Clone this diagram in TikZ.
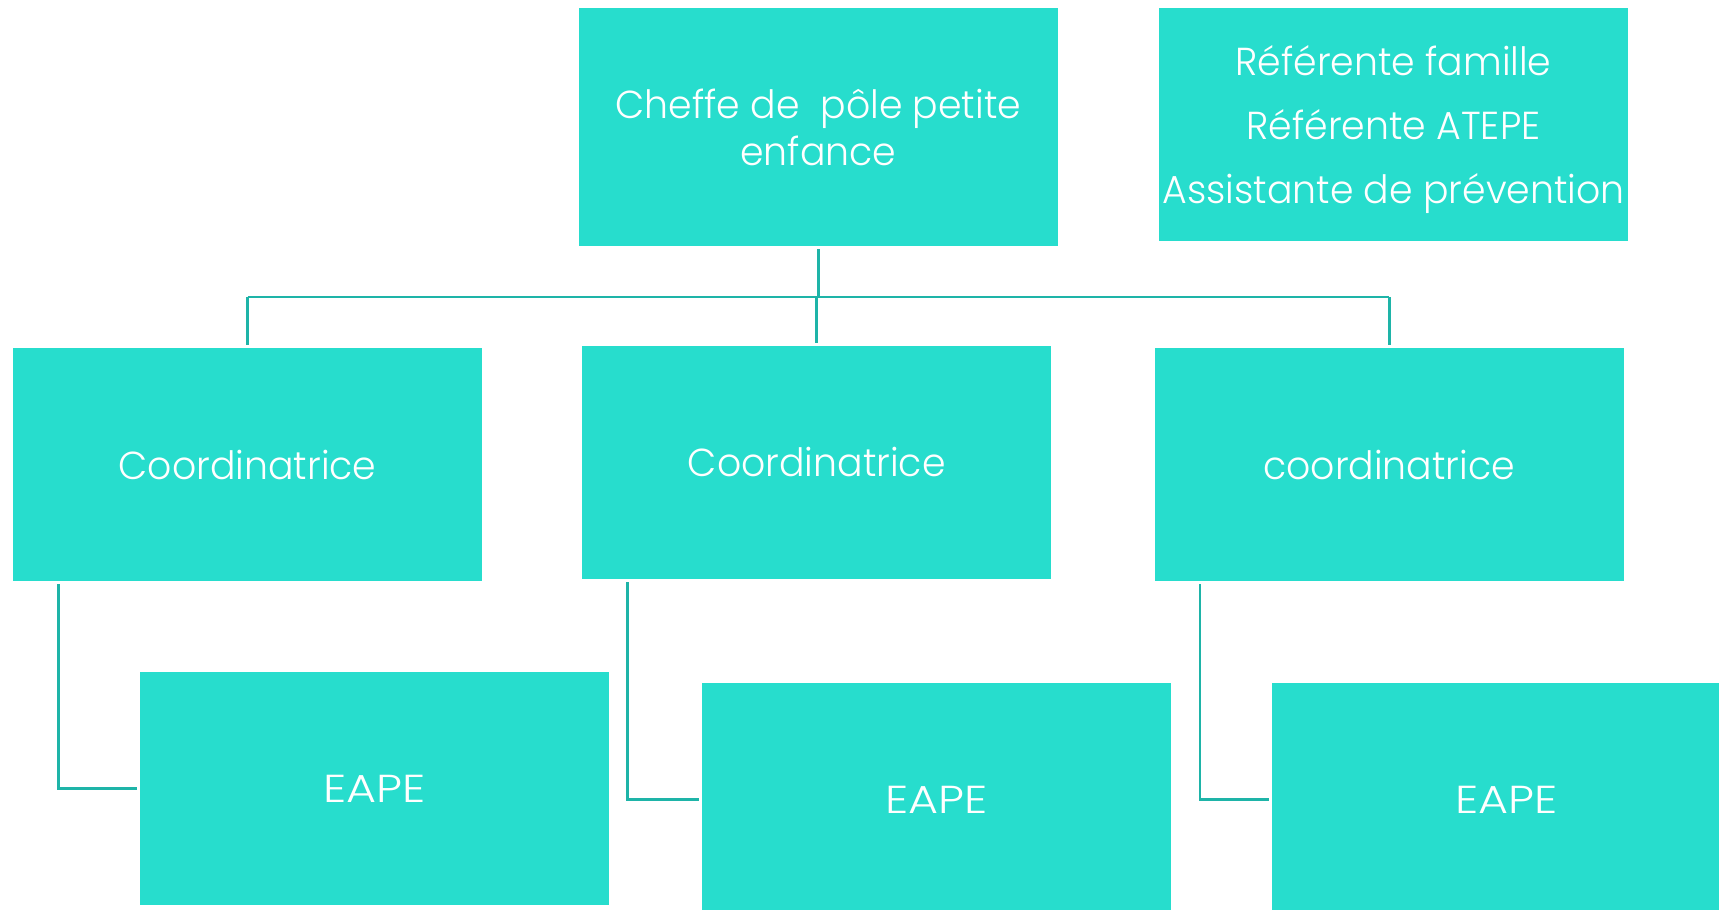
\documentclass[tikz,border=0pt]{standalone}
\usepackage{fontspec}
\setmainfont{Poppins}[UprightFont=* Light, FakeStretch=0.97]
\newfontfamily\eapefont{Poppins}[UprightFont=* Light, FakeStretch=1.18]
\definecolor{boxfill}{RGB}{39,221,205}
\definecolor{linecol}{RGB}{30,180,168}
\begin{document}
\begin{tikzpicture}[x=1pt,y=-1pt,
  box/.style={fill=boxfill, draw=none, text=white, align=center, inner sep=0pt,
    anchor=north west, minimum width=469pt, minimum height=233pt,
    font=\fontsize{39}{47}\selectfont},
  eape/.style={box, font=\eapefont\fontsize{39}{47}\selectfont},
  conn/.style={draw=linecol, line width=2.8pt}]
\path[use as bounding box, clip] (0,0) rectangle (1719,910);
\fill[white] (0,0) rectangle (1719,910);
% boxes
\node[box, minimum width=479pt, minimum height=238pt] (top) at (578.7,7.7) {Cheffe de\ \ pôle petite\\enfance};
\node[box, font=\fontsize{39}{64}\selectfont] (ref) at (1158.8,7.7) {\rule{0pt}{40pt}Référente famille\\Référente ATEPE\\Assistante de prévention};
\node[box] (c1) at (12.9,348) {Coordinatrice};
\node[box] (c2) at (582.1,345.7) {Coordinatrice};
\node[box] (c3) at (1154.4,348) {coordinatrice};
\node[eape] (e1) at (140.2,672) {EAPE};
\node[eape] (e2) at (701.8,682.7) {EAPE};
\node[eape] (e3) at (1271.9,682.7) {EAPE};
% connectors
\coordinate (bus) at (0,297);
\draw[conn, shorten <=3pt] (top.south) -- (top.south |- bus);
\draw[conn] (c1.north |- bus) -- (c3.north |- bus);
\foreach \n in {c1,c2,c3}
  \draw[conn, shorten >=3pt] (\n.north |- bus) -- (\n.north);
\draw[conn, shorten <=3pt, shorten >=3pt] ([xshift=45.5pt]c1.south west) |- (e1.west);
\draw[conn, shorten <=3pt, shorten >=3pt] ([xshift=45.5pt]c2.south west) |- (e2.west);
\draw[conn, shorten <=3pt, shorten >=3pt] ([xshift=45.5pt]c3.south west) |- (e3.west);
\end{tikzpicture}
\end{document}
